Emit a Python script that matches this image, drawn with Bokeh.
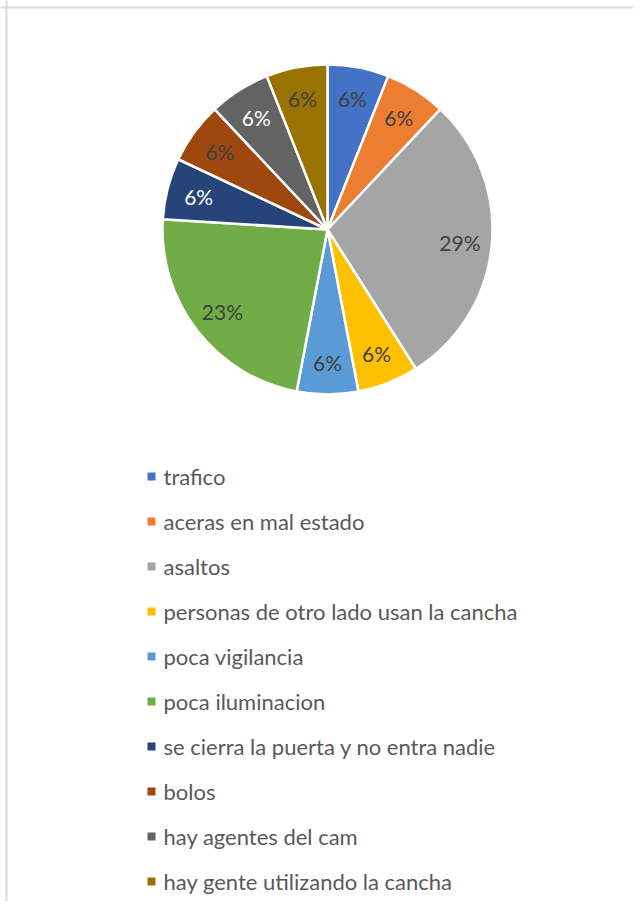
import math
from bokeh.plotting import figure
from bokeh.models import Range1d, Span
from bokeh.core.properties import value
from bokeh.embed import file_html
from bokeh.resources import INLINE

categories = [
    "trafico",
    "aceras en mal estado",
    "asaltos",
    "personas de otro lado usan la cancha",
    "poca vigilancia",
    "poca iluminacion",
    "se cierra la puerta y no entra nadie",
    "bolos",
    "hay agentes del cam",
    "hay gente utilizando la cancha",
]
percents = [6, 6, 29, 6, 6, 23, 6, 6, 6, 6]
colors = ["#4472C4", "#ED7D31", "#A5A5A5", "#FFC000", "#5B9BD5",
          "#70AD47", "#264478", "#9E480E", "#636363", "#997300"]
label_colors = ["#404040", "#404040", "#404040", "#404040", "#404040",
                "#404040", "#FFFFFF", "#404040", "#FFFFFF", "#404040"]

W, H = 633, 901
FONT = "Lato"

# data coords: x = picture x, y = 909 - picture y
p = figure(width=W, height=H, output_backend="svg", toolbar_location=None,
           x_range=Range1d(0, W), y_range=Range1d(909 - H, 909),
           min_border=0, outline_line_color=None)
p.axis.visible = False
p.grid.visible = False
p.background_fill_color = "white"
p.border_fill_color = "white"

# frame lines (left and top)
p.add_layout(Span(location=6, dimension="height", line_color="#D9D9D9", line_width=2))
p.add_layout(Span(location=909 - 7, dimension="width", line_color="#D9D9D9", line_width=2))

cx, cy, R = 327, 909 - 229, 165
total = sum(percents)
starts, ends, lx, ly, labels = [], [], [], [], []
cum = 0
for c in percents:
    a0 = math.pi / 2 - 2 * math.pi * cum / total
    a1 = math.pi / 2 - 2 * math.pi * (cum + c) / total
    starts.append(a1)
    ends.append(a0)
    mid = (a0 + a1) / 2
    lx.append(cx + 133 * math.cos(mid))
    ly.append(cy + 133 * math.sin(mid))
    labels.append(f"{round(100 * c / total)}%")
    cum += c

p.wedge(x=cx, y=cy, radius=R, radius_units="screen", start_angle=starts, end_angle=ends,
        fill_color=colors, line_color="white", line_width=2.5)
p.text(x=lx, y=ly, text=labels, text_color=label_colors, text_align="center",
       text_baseline="middle", text_font=value(FONT), text_font_size="21px")

# legend
leg_y = [909 - (476 + 45 * i) for i in range(len(categories))]
p.scatter(x=[151] * len(categories), y=leg_y, marker="square", size=8,
          fill_color=colors, line_color=None)
p.text(x=[163] * len(categories), y=leg_y, text=categories, text_color="#595959",
       text_align="left", text_baseline="middle", text_font=value(FONT),
       text_font_size="22px")

open("out.html", "w").write(file_html(p, INLINE))
